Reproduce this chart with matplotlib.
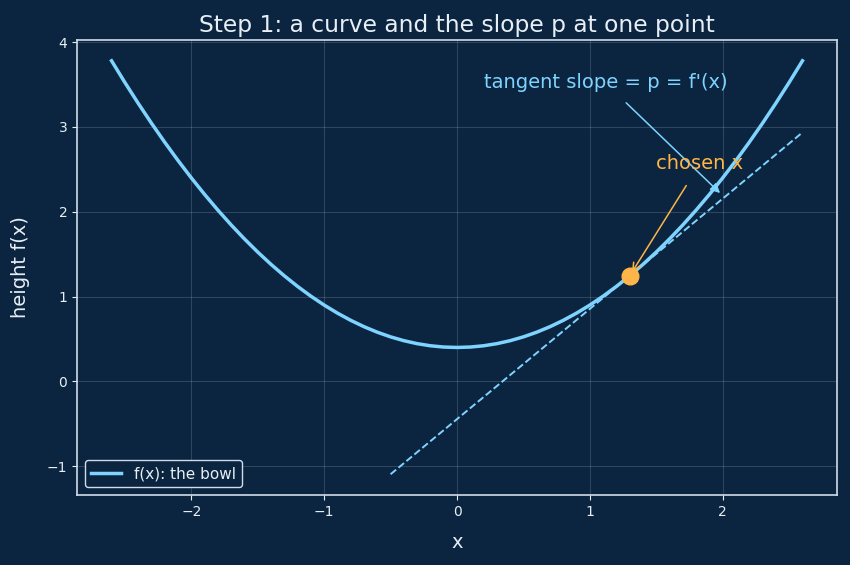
import matplotlib
matplotlib.use("Agg")
import matplotlib.pyplot as plt

# the bowl (x from -2.6 to 2.6 every 0.1)
xs = [-2.6, -2.5, -2.4, -2.3, -2.2, -2.1, -2.0, -1.9, -1.8, -1.7, -1.6, -1.5, -1.4,
      -1.3, -1.2, -1.1, -1.0, -0.9, -0.8, -0.7, -0.6, -0.5, -0.4, -0.3, -0.2, -0.1,
      0.0,
      0.1, 0.2, 0.3, 0.4, 0.5, 0.6, 0.7, 0.8, 0.9, 1.0, 1.1, 1.2, 1.3,
      1.4, 1.5, 1.6, 1.7, 1.8, 1.9, 2.0, 2.1, 2.2, 2.3, 2.4, 2.5, 2.6]
ys = [3.78, 3.525, 3.28, 3.045, 2.82, 2.605, 2.40, 2.205, 2.02, 1.845, 1.68, 1.525, 1.38,
      1.245, 1.12, 1.005, 0.90, 0.805, 0.72, 0.645, 0.58, 0.525, 0.48, 0.445, 0.42, 0.405,
      0.40,
      0.405, 0.42, 0.445, 0.48, 0.525, 0.58, 0.645, 0.72, 0.805, 0.90, 1.005, 1.12, 1.245,
      1.38, 1.525, 1.68, 1.845, 2.02, 2.205, 2.40, 2.605, 2.82, 3.045, 3.28, 3.525, 3.78]

# tangent line end points and chosen point
tan_x = [-0.5, 2.6]
tan_y = [-1.095, 2.935]
pt_x = 1.3
pt_y = 1.245

bg = "#0b2540"
blue = "#7fd3ff"
orange = "#ffb547"
fg = "#e8eef5"

fig, ax = plt.subplots(figsize=(8.5, 5.65), dpi=100)
fig.patch.set_facecolor(bg)
ax.set_facecolor(bg)

ax.plot(xs, ys, color=blue, lw=2.5, label="f(x): the bowl")
ax.plot(tan_x, tan_y, color=blue, lw=1.4, ls="--")
ax.plot([pt_x], [pt_y], "o", color=orange, markersize=12, zorder=5)

ax.annotate("tangent slope = p = f'(x)", xy=(1.98, 2.22), xytext=(0.2, 3.52),
            color=blue, fontsize=14, ha="left", va="center",
            arrowprops=dict(arrowstyle="-|>", color=blue, lw=1.1,
                            shrinkA=8, shrinkB=0))
ax.annotate("chosen x", xy=(pt_x, pt_y), xytext=(1.5, 2.565),
            color=orange, fontsize=14, ha="left", va="center",
            arrowprops=dict(arrowstyle="->", color=orange, lw=1.1,
                            shrinkA=8, shrinkB=3))

ax.set_title("Step 1: a curve and the slope p at one point", color=fg, fontsize=16.8)
ax.set_xlabel("x", color=fg, fontsize=14, labelpad=10)
ax.set_ylabel("height f(x)", color=fg, fontsize=14, labelpad=12)
ax.tick_params(colors=fg, labelsize=10)
for s in ax.spines.values():
    s.set_color("#d0dcea")
    s.set_linewidth(1.2)
ax.grid(True, color="white", alpha=0.15, lw=0.8)

leg = ax.legend(loc="lower left", facecolor=bg, edgecolor="#d0dcea", fontsize=11)
for t in leg.get_texts():
    t.set_color(fg)
leg.get_frame().set_alpha(1)

fig.subplots_adjust(left=0.0906, right=0.9847, top=0.929, bottom=0.124)
fig.savefig("out.png", facecolor=bg)
